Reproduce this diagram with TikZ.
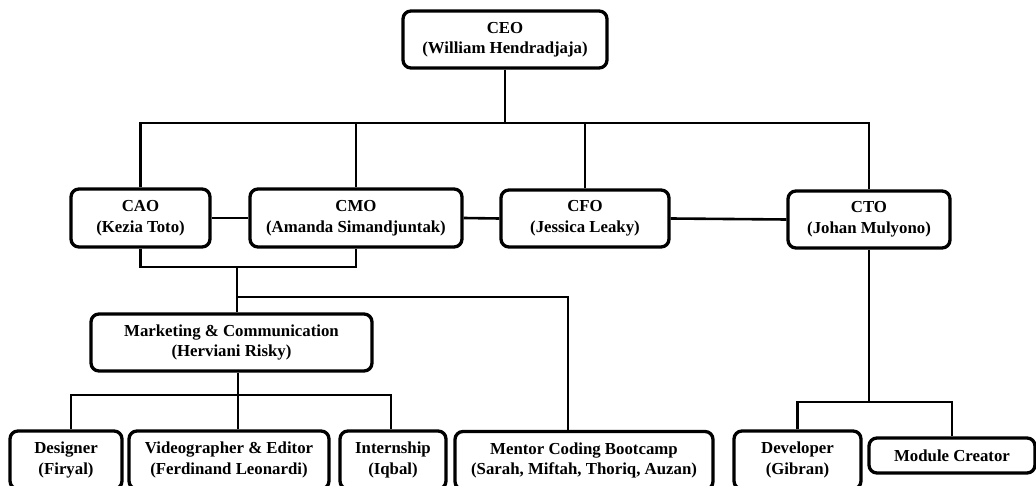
\documentclass[tikz,border=0pt]{standalone}
\usepackage{fontspec}
\setmainfont{Liberation Serif}
\begin{document}
\begin{tikzpicture}[x=1pt,y=-1pt,
  box/.style={draw, line width=3.3pt, rounded corners=8pt, align=center, inner sep=0pt,
    font=\fontsize{16.8}{20.5}\selectfont\bfseries},
  conn/.style={line width=2.6pt, line join=miter}]
\clip (0,0) rectangle (1036,486);
\fill[white] (0,0) rectangle (1036,486);
% top
\node[box, minimum width=204pt, minimum height=57pt] (ceo) at (505,39.5) {CEO\\(William Hendradjaja)};
% second row
\node[box, minimum width=139pt, minimum height=58pt] (cao) at (140.5,218) {CAO\\(Kezia Toto)};
\node[box, minimum width=212pt, minimum height=58pt] (cmo) at (356,218) {CMO\\(Amanda Simandjuntak)};
\node[box, minimum width=168pt, minimum height=57pt] (cfo) at (585,218.5) {CFO\\(Jessica Leaky)};
\node[box, minimum width=162pt, minimum height=57pt] (cto) at (869,219.5) {CTO\\(Johan Mulyono)};
% third row
\node[box, minimum width=281pt, minimum height=57pt] (mkt) at (231.5,342.5) {Marketing \& Communication\\(Herviani Risky)};
% bottom row
\node[box, minimum width=112pt, minimum height=58pt] (des) at (66,460) {Designer\\(Firyal)};
\node[box, minimum width=200pt, minimum height=58pt] (vid) at (229,460) {Videographer \& Editor\\(Ferdinand Leonardi)};
\node[box, minimum width=106pt, minimum height=58pt] (int) at (393,460) {Internship\\(Iqbal)};
\node[box, minimum width=258pt, minimum height=58pt] (men) at (584,460.5) {Mentor Coding Bootcamp\\(Sarah, Miftah, Thoriq, Auzan)};
\node[box, minimum width=127pt, minimum height=58pt] (dev) at (797.5,460) {Developer\\(Gibran)};
\node[box, minimum width=166pt, minimum height=35pt] (mod) at (952,455.5) {Module Creator};
% named points of the connectors
\coordinate (topbus) at (0,123);
\coordinate (j1) at (237,267);
\coordinate (j2) at (237,297);
\coordinate (mdrop) at (568,297);
\coordinate (j3) at (238,395);
\coordinate (dA) at (71,395);
\coordinate (dB) at (391,395);
\coordinate (k) at (0,402);
% CEO to chiefs
\draw[conn] (ceo.south) -- (ceo.south |- topbus);
\draw[conn] (cao.north) |- (cto.north |- topbus) -- (cto.north);
\draw[conn] (cmo.north) -- (cmo.north |- topbus);
\draw[conn] (cfo.north) -- (cfo.north |- topbus);
% links between chiefs
\draw[conn] (cao.east) -- (cmo.west);
\draw[conn] (cmo.east) -- (cfo.west);
\draw[conn] (cfo.east) -- (cto.west);
% CAO / CMO to marketing and mentors
\draw[conn] (cao.south) |- (cmo.south |- j1) -- (cmo.south);
\draw[conn] (j1) -- (j1 |- mkt.north);
\draw[conn] (j2) -- (mdrop) -- (mdrop |- men.north);
% marketing to its teams
\draw[conn] (j3 |- mkt.south) -- (j3 |- vid.north);
\draw[conn] (dA |- des.north) -- (dA) -- (dB) -- (dB |- int.north);
% CTO to its teams
\draw[conn] (cto.south) -- (cto.south |- k);
\draw[conn] (dev.north) |- (mod.north |- k) -- (mod.north);
\end{tikzpicture}
\end{document}
